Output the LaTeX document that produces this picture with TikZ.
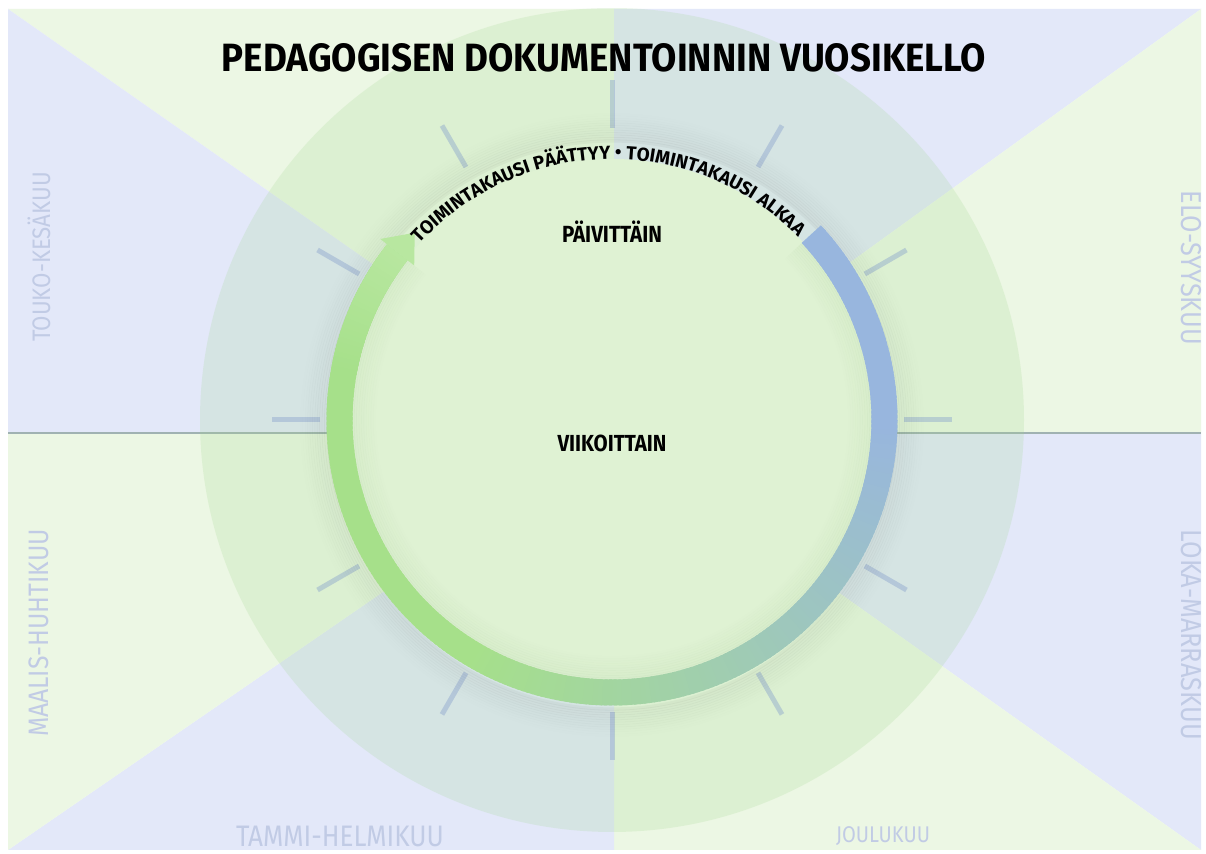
\documentclass[tikz,border=0pt]{standalone}
\usepackage{fontspec}
\setmainfont{Fira Sans}
\newfontfamily\dinfont{Fira Sans}[FakeStretch=0.88]
\newfontfamily\arcfont{Fira Sans}[FakeStretch=1.0]
\usetikzlibrary{decorations.text}

\definecolor{secblue}{RGB}{227,232,249}
\definecolor{secgreen}{RGB}{236,247,228}
\definecolor{veil}{RGB}{160,214,140}
\definecolor{diskfill}{RGB}{223,242,211}
\definecolor{ringblue}{RGB}{152,182,222}
\definecolor{ringgreen}{RGB}{166,224,138}
\definecolor{headgreen}{RGB}{184,231,160}
\definecolor{tickcol}{RGB}{140,165,205}
\definecolor{monthcol}{RGB}{193,203,229}
\definecolor{seamcol}{RGB}{160,178,178}
\definecolor{innershade}{RGB}{120,170,100}

\tikzset{
  month/.style={text=monthcol, inner sep=0pt, font=\dinfont},
  heading/.style={text=black, inner sep=0pt, font=\dinfont\bfseries, anchor=base},
  rhythm/.style={text=black, inner sep=0pt, font=\dinfont\bfseries, anchor=base},
  tickmark/.style={draw=tickcol, draw opacity=0.45, line width=2.5pt},
}

\begin{document}
\begin{tikzpicture}[x=0.5pt,y=0.5pt]
\useasboundingbox (0,0) rectangle (1206,854);
\fill[white] (0,0) rectangle (1206,854);

% background: eight alternating triangles meeting in the middle
\begin{scope}
  \clip (8,4) rectangle (1201,845);
  \coordinate (B) at (614,421);
  \fill[secgreen] (B) -- (8,845) -- (614,845) -- cycle;
  \fill[secblue]  (B) -- (614,845) -- (1201,845) -- cycle;
  \fill[secgreen] (B) -- (1201,845) -- (1201,421) -- cycle;
  \fill[secblue]  (B) -- (1201,421) -- (1201,4) -- cycle;
  \fill[secgreen] (B) -- (1201,4) -- (614,4) -- cycle;
  \fill[secblue]  (B) -- (614,4) -- (8,4) -- cycle;
  \fill[secgreen] (B) -- (8,4) -- (8,421) -- cycle;
  \fill[secblue]  (B) -- (8,421) -- (8,845) -- cycle;
  \coordinate (seamL) at (8,421);
  \coordinate (seamR) at (1201,421);
  \draw[seamcol, line width=0.6pt] (seamL) -- (seamR);
  % translucent outer dial
  \fill[veil, opacity=0.2] (612,434) circle[radius=412];
\end{scope}

% month labels
\node[month, rotate=90]  (may)  at (39,597)   {\resizebox{85pt}{!}{TOUKO-KESÄKUU}};
\node[month, rotate=90]  (mar)  at (39,221)   {\resizebox{104pt}{!}{MAALIS-HUHTIKUU}};
\node[month]             (jan)  at (340,18)   {\resizebox{104pt}{!}{TAMMI-HELMIKUU}};
\node[month]             (dec)  at (883,18)   {\resizebox{47pt}{!}{JOULUKUU}};
\node[month, rotate=-90] (oct)  at (1191,219)  {\resizebox{105pt}{!}{LOKA-MARRASKUU}};
\node[month, rotate=-90] (aug)  at (1191,586)  {\resizebox{77pt}{!}{ELO-SYYSKUU}};

\begin{scope}[shift={(612,434)}]
  % twelve month ticks
  \foreach \k in {0,...,11}
    \draw[tickmark] ({\k*30}:292) -- ({\k*30}:340);

  % soft shadow around the wheel
  \foreach \i in {0,...,11} {
    \pgfmathsetmacro\op{0.035*(1-\i/12)}
    \draw[black, opacity=\op, line width=1.6pt] (0,-5) circle[radius=284+\i*2.4];
  }

  % inner disk
  \fill[diskfill] (0,0) circle[radius=261];
  \foreach \i in {0,...,9} {
    \pgfmathsetmacro\op{0.07*(1-\i/10)}
    \draw[innershade, opacity=\op, line width=1.4pt]
      (43:259-\i*2.4) arc[start angle=43, end angle=-218, radius=259-\i*2.4];
  }

  % the year ring, blue at the start of the season turning green
  \foreach \a in {43,42,...,-217} {
    \pgfmathtruncatemacro\mixpct{min(100,max(0,-(\a)/1.2))}
    \pgfmathsetmacro\segend{max(\a-1.6,-218)}
    \draw[line width=13pt, color=ringgreen!\mixpct!ringblue]
      (\a:272.5) arc[start angle=\a, end angle=\segend, radius=272.5];
  }
  \foreach \a in {-190,-191,...,-217} {
    \pgfmathtruncatemacro\mixpct{min(100,max(0,(-190-(\a))*100/28))}
    \pgfmathsetmacro\segend{max(\a-1.6,-218)}
    \draw[line width=13pt, color=headgreen!\mixpct!ringgreen]
      (\a:272.5) arc[start angle=\a, end angle=\segend, radius=272.5];
  }
  \fill[headgreen] (142:251) -- (142:294) -- (136.5:272) -- cycle;

  % season text on the arc
  \path[decorate, decoration={text along path, text align=center,
        text={|\fontsize{9.4pt}{11pt}\arcfont\bfseries|TOIMINTAKAUSI PÄÄTTYY • TOIMINTAKAUSI ALKAA}}]
    (138:261) arc[start angle=138, end angle=44, radius=261];
\end{scope}

% headings
\node[heading] (title) at (604,782)
  {\resizebox{382pt}{14pt}{PEDAGOGISEN DOKUMENTOINNIN VUOSIKELLO}};
\node[rhythm] (daily)  at (612,611) {\resizebox{50pt}{!}{PÄIVITTÄIN}};
\node[rhythm] (weekly) at (612,402) {\resizebox{54.5pt}{!}{VIIKOITTAIN}};
\end{tikzpicture}
\end{document}
